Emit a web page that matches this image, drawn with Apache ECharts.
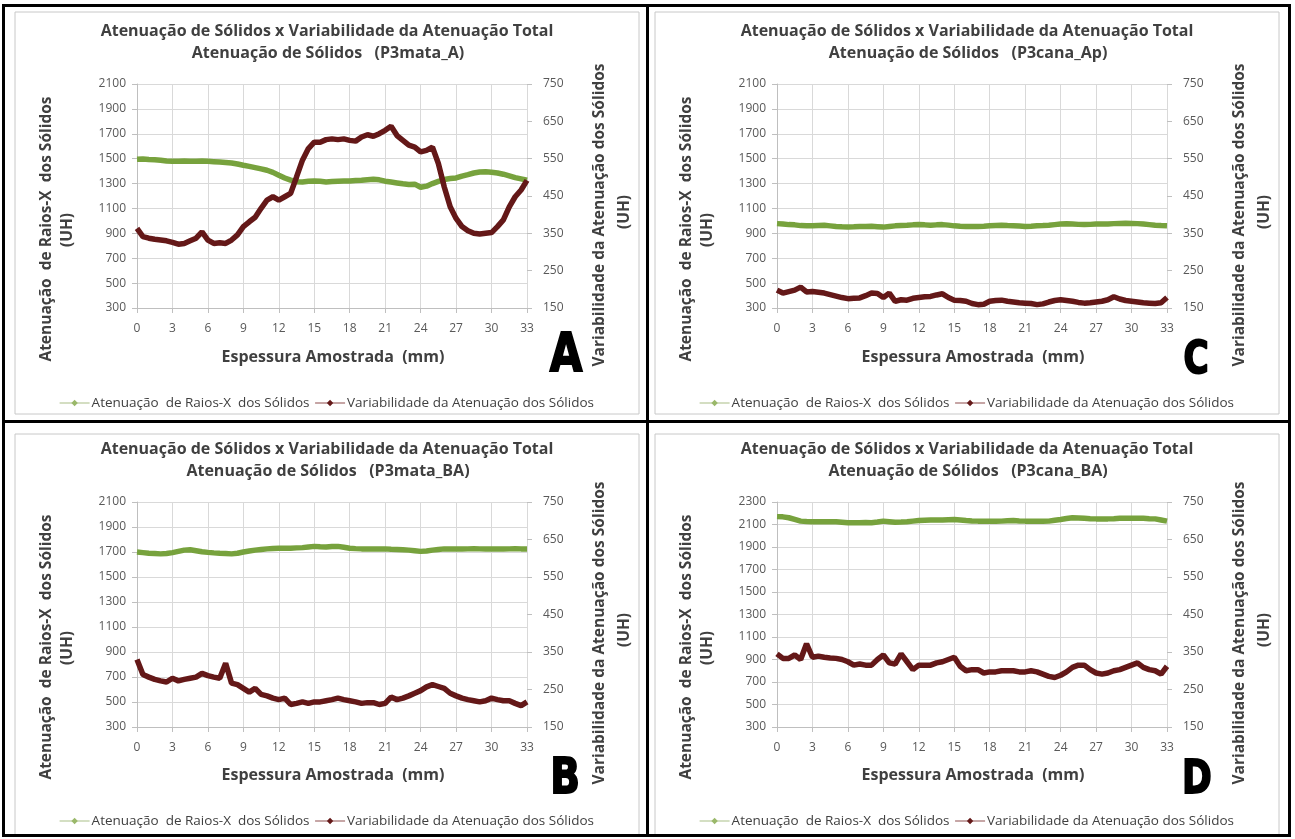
<!DOCTYPE html>
<html>
<head>
<meta charset="utf-8">
<script src="https://cdn.jsdelivr.net/npm/echarts@6/dist/echarts.min.js"></script>
<style>
html,body{margin:0;padding:0;background:#fff;}
#c{width:1295px;height:839px;}
</style>
</head>
<body>
<div id="c"></div>
<script>
// ---- sampling positions (mm) ----
const XS = [0,0.5,1,1.5,2,2.5,3,3.5,4,4.5,5,5.5,6,6.5,7,7.5,8,8.5,9,9.5,10,10.5,11,11.5,12,12.5,13,13.5,14,14.5,15,15.5,16,16.5,17,17.5,18,18.5,19,19.5,20,20.5,21,21.5,22,22.5,23,23.5,24,24.5,25,25.5,26,26.5,27,27.5,28,28.5,29,29.5,30,30.5,31,31.5,32,32.5,33];

// ---- Panel A (P3mata_A) ----
const A_green = [1495,1497,1493,1492,1488,1482,1479,1480,1482,1480,1479,1481,1479,1476,1473,1470,1465,1457,1447,1438,1428,1418,1407,1390,1367,1345,1327,1315,1313,1318,1321,1318,1313,1316,1319,1320,1321,1324,1327,1331,1335,1330,1319,1312,1305,1298,1292,1295,1270,1279,1300,1318,1332,1340,1345,1360,1372,1385,1393,1394,1391,1385,1375,1362,1348,1338,1327];
const A_red = [363,341,337,334,332,330,326,321,323,330,337,354,332,323,325,323,332,346,368,381,393,417,439,448,439,448,457,501,546,577,594,594,601,603,601,603,599,597,608,614,610,617,626,637,612,599,586,581,568,572,581,537,474,421,390,368,357,350,348,350,352,368,386,421,448,466,492];

// ---- Panel C (P3cana_Ap) ----
const C_green = [978,975,970,968,962,960,960,963,965,960,955,952,950,952,955,955,956,953,950,955,960,963,965,968,970,968,965,968,970,966,960,957,955,954,955,957,960,963,965,962,960,958,955,957,960,962,965,970,975,977,975,972,970,972,975,976,975,978,980,981,980,978,975,970,965,962,960];
const C_red = [198,190,194,198,206,193,194,192,190,186,182,178,175,176,177,183,190,189,178,190,168,172,171,176,178,180,181,185,188,178,171,170,168,162,159,160,168,170,171,168,166,164,163,162,159,161,166,170,172,170,168,165,163,164,166,168,172,180,174,170,168,166,164,163,162,164,178];

// ---- Panel B (P3mata_BA) ----
const B_green = [1700,1695,1690,1688,1685,1688,1695,1705,1715,1718,1710,1702,1697,1693,1690,1688,1685,1690,1700,1708,1715,1720,1725,1728,1730,1730,1730,1733,1735,1740,1745,1742,1740,1744,1745,1738,1730,1727,1725,1725,1725,1725,1725,1722,1720,1718,1715,1710,1705,1708,1715,1720,1725,1725,1725,1724,1725,1726,1725,1724,1725,1725,1724,1725,1726,1725,1725];
const B_red = [330,290,283,277,273,270,280,273,277,280,283,293,287,283,280,320,267,263,253,243,253,237,233,227,223,227,210,213,217,213,217,217,220,223,227,223,220,217,213,215,215,210,213,230,223,227,233,240,247,257,263,258,253,240,233,227,223,220,217,220,227,223,220,220,213,207,217];

// ---- Panel D (P3cana_BA) ----
const D_green = [2170,2168,2160,2145,2130,2127,2125,2125,2125,2124,2125,2120,2115,2115,2115,2118,2115,2122,2130,2125,2120,2122,2125,2130,2135,2138,2140,2140,2140,2143,2145,2140,2135,2132,2130,2130,2130,2128,2130,2133,2135,2132,2130,2130,2130,2128,2130,2138,2145,2153,2160,2158,2155,2152,2150,2150,2150,2152,2155,2156,2155,2156,2155,2152,2150,2140,2130];
const D_red = [345,333,333,342,330,372,336,339,336,334,333,330,324,315,318,315,315,330,342,321,318,345,324,303,315,315,315,321,324,330,336,312,300,303,303,294,297,297,300,300,300,297,297,300,297,291,285,282,288,297,309,315,315,303,294,291,294,300,303,309,315,321,309,303,300,291,312];

// ---- text ----
const TITLE1 = 'Atenuação de Sólidos x Variabilidade da Atenuação Total';
const SUBTITLES = ['Atenuação de Sólidos   (P3mata_A)', 'Atenuação de Sólidos   (P3cana_Ap)', 'Atenuação de Sólidos   (P3mata_BA)', 'Atenuação de Sólidos   (P3cana_BA)'];
const LETTERS = ['A', 'C', 'B', 'D'];
const X_TITLE = 'Espessura Amostrada  (mm)';
const YL_TITLE = 'Atenuação  de Raios-X  dos Sólidos';
const YR_TITLE = 'Variabilidade da Atenuação dos Sólidos';
const UNIT = '(UH)';
const S_GREEN = 'Atenuação  de Raios-X  dos Sólidos';
const S_RED = 'Variabilidade da Atenuação dos Sólidos';
const X_MIN = 0, X_MAX = 33, X_STEP = 3;
const LEFT_RANGES = [[300, 2100], [300, 2100], [300, 2100], [300, 2300]];
const LEFT_STEP = 200;
const RIGHT_RANGE = [150, 750];
const RIGHT_STEP = 100;

const GREENS = [A_green, C_green, B_green, D_green];
const REDS = [A_red, C_red, B_red, D_red];

const FONT = '"Open Sans", "Liberation Sans", sans-serif';
const OFFS = [[0, 0], [640, 0], [0, 418], [640, 418]];
const LETTER_POS = [[566, 357, 54], [1196, 362, 44], [565, 780, 50], [1197, 781, 46]];
const GREEN = '#77a23d', RED = '#641818';

const chart = echarts.init(document.getElementById('c'), null, {renderer: 'canvas'});

const grids = [], xAxes = [], yAxes = [], series = [], legends = [], graphics = [];
const plain = v => String(v);

// frames
OFFS.forEach(([dx, dy], i) => {
  graphics.push({type: 'rect', z: -10, silent: true,
    shape: {x: 15 + dx, y: 12 + dy + (dy ? 4 : 0), width: 624, height: 402},
    style: {fill: '#fff', stroke: '#c8c8c8', lineWidth: 1}});
});
// black borders
graphics.push({type: 'rect', z: 100, silent: true, shape: {x: 3.5, y: 5.5, width: 1286, height: 830}, style: {fill: null, stroke: '#000', lineWidth: 3}});
graphics.push({type: 'line', z: 100, silent: true, shape: {x1: 647.5, y1: 5, x2: 647.5, y2: 836}, style: {stroke: '#000', lineWidth: 3}});
graphics.push({type: 'line', z: 100, silent: true, shape: {x1: 3, y1: 421.5, x2: 1291, y2: 421.5}, style: {stroke: '#000', lineWidth: 3}});

OFFS.forEach(([dx, dy], i) => {
  const txt = (x, y, text, size) => ({type: 'text', z: 50, silent: true, x: x, y: y,
    style: {text: text, font: 'bold ' + size + 'px ' + FONT, fill: '#404040', textAlign: 'center', textVerticalAlign: 'middle'}});
  graphics.push(txt(327 + dx, 31 + dy, TITLE1, 16));
  graphics.push(txt(328 + dx, 53 + dy, SUBTITLES[i], 16));
  graphics.push(txt(333 + dx, 357 + dy, X_TITLE, 16));
  const l1 = txt(47 + dx, 229 + dy, YL_TITLE, 15.5); l1.rotation = Math.PI / 2; graphics.push(l1);
  const l2 = txt(68 + dx, 230 + dy, UNIT, 15.5); l2.rotation = Math.PI / 2; graphics.push(l2);
  const r1 = txt(600 + dx, 215 + dy, YR_TITLE, 15.5); r1.rotation = Math.PI / 2; graphics.push(r1);
  const r2 = txt(625 + dx, 212 + dy, UNIT, 15.5); r2.rotation = Math.PI / 2; graphics.push(r2);
  const [lx, ly, ls] = LETTER_POS[i];
  graphics.push({type: 'text', z: 60, silent: true, x: lx, y: ly, scaleX: 0.78,
    style: {text: LETTERS[i], font: '900 ' + ls + 'px "DejaVu Sans", sans-serif', fill: '#000', stroke: '#000', lineWidth: 2, textAlign: 'center', textVerticalAlign: 'middle'}});

  grids.push({left: 137 + dx, top: 84 + dy, width: 390, height: 224 + (dy ? 1 : 0), containLabel: false});
  xAxes.push({type: 'value', gridIndex: i, min: X_MIN, max: X_MAX, interval: X_STEP,
    axisLine: {show: true, lineStyle: {color: '#bfbfbf'}},
    axisTick: {show: true, length: 5, lineStyle: {color: '#bfbfbf'}},
    axisLabel: {color: '#595959', fontFamily: FONT, fontSize: 12, margin: 15, formatter: plain},
    splitLine: {show: true, lineStyle: {color: '#d9d9d9'}}});
  const [lmin, lmax] = LEFT_RANGES[i];
  yAxes.push({type: 'value', gridIndex: i, position: 'left', min: lmin, max: lmax, interval: LEFT_STEP,
    axisLine: {show: true, lineStyle: {color: '#bfbfbf'}},
    axisTick: {show: true, length: 5, lineStyle: {color: '#bfbfbf'}},
    axisLabel: {color: '#595959', fontFamily: FONT, fontSize: 12, margin: 11, formatter: plain},
    splitLine: {show: true, lineStyle: {color: '#d9d9d9'}}});
  yAxes.push({type: 'value', gridIndex: i, position: 'right', min: RIGHT_RANGE[0], max: RIGHT_RANGE[1], interval: RIGHT_STEP,
    axisLine: {show: false},
    axisTick: {show: true, length: 5, lineStyle: {color: '#bfbfbf'}},
    axisLabel: {color: '#595959', fontFamily: FONT, fontSize: 12, margin: 16, formatter: plain},
    splitLine: {show: false}});
  series.push({name: S_GREEN, type: 'line', xAxisIndex: i, yAxisIndex: 2 * i,
    data: XS.map((x, k) => [x, GREENS[i][k]]),
    symbol: 'diamond', symbolSize: 4, showSymbol: false, smooth: false,
    lineStyle: {color: GREEN, width: 5.5}, itemStyle: {color: '#9ab86a'}, z: 3});
  series.push({name: S_RED, type: 'line', xAxisIndex: i, yAxisIndex: 2 * i + 1,
    data: XS.map((x, k) => [x, REDS[i][k]]),
    symbol: 'diamond', symbolSize: 6, showSymbol: false, smooth: false,
    lineStyle: {color: RED, width: 5.5}, itemStyle: {color: RED}, z: 4});
  legends.push({left: 54 + dx, top: 391 + dy, itemWidth: 30, itemHeight: 8, itemGap: 5,
    lineStyle: {width: 1.2},
    textStyle: {color: '#404040', fontFamily: FONT, fontSize: 13.5, padding: [0, 0, 0, -3]},
    data: [
      {name: S_GREEN, itemStyle: {color: '#9ab86a'}, lineStyle: {color: '#b7c99a'}},
      {name: S_RED, itemStyle: {color: RED}, lineStyle: {color: '#a06a6a'}}
    ], selectedMode: false});
});

chart.setOption({
  animation: false,
  backgroundColor: '#fff',
  grid: grids, xAxis: xAxes, yAxis: yAxes, series: series, legend: legends,
  graphic: {elements: graphics}
});
</script>
</body>
</html>
